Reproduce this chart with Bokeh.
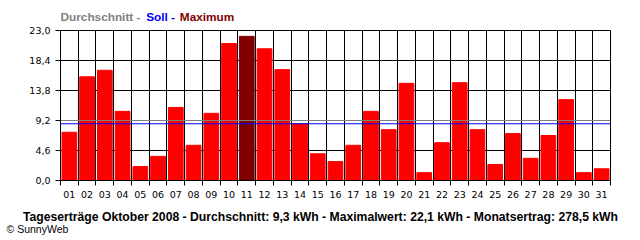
from bokeh.plotting import figure
from bokeh.layouts import column
from bokeh.models import FixedTicker, CustomJSTickFormatter, Span, ColumnDataSource, Range1d
from bokeh.core.properties import value
from bokeh.embed import file_html
from bokeh.resources import INLINE

days = ["01", "02", "03", "04", "05", "06", "07", "08", "09", "10",
        "11", "12", "13", "14", "15", "16", "17", "18", "19", "20",
        "21", "22", "23", "24", "25", "26", "27", "28", "29", "30", "31"]
yields = [7.4, 15.9, 16.9, 10.6, 2.15, 3.7, 11.2, 5.4, 10.3, 21.0,
          22.1, 20.2, 17.0, 8.7, 4.1, 2.9, 5.4, 10.6, 7.8, 14.9,
          1.2, 5.8, 15.0, 7.8, 2.45, 7.2, 3.4, 6.9, 12.4, 1.2, 1.8]
y_ticks = [0.0, 4.6, 9.2, 13.8, 18.4, 23.0]
average = 9.2
target = 8.7

title_parts = ["Durchschnitt - ", "Soll - ", "Maximum"]
title_colors = ["#808080", "#0000ff", "#800000"]
bottom_title = "Tageserträge Oktober 2008 - Durchschnitt: 9,3 kWh - Maximalwert: 22,1 kWh - Monatsertrag: 278,5 kWh"
credit = "© SunnyWeb"

W = 640


def text_strip(h):
    f = figure(width=W, height=h, output_backend="svg", toolbar_location=None,
               x_range=Range1d(0, W), y_range=Range1d(0, h), frame_align=False,
               x_axis_type=None, y_axis_type=None,
               min_border=0, min_border_left=0, min_border_right=0,
               min_border_top=0, min_border_bottom=0)
    f.grid.visible = False
    f.outline_line_color = None
    f.background_fill_color = "white"
    f.border_fill_color = "white"
    return f


# ---- top title strip ----
top = text_strip(24)
top.text(x=[60, 145.7, 179.3], y=[7.5, 7.5, 7.5], text=title_parts, text_color=title_colors,
         text_font=value("Liberation Sans"), text_font_style="bold",
         text_font_size="11.8px", text_baseline="alphabetic", text_align="left")

# ---- main chart ----
n = len(days)
xs = list(range(1, n + 1))
vmax = max(yields)
colors = ["#800000" if v == vmax else "#ff0000" for v in yields]
src = ColumnDataSource(dict(x=xs, top=yields, color=colors))

p = figure(width=W, height=186, output_backend="svg", toolbar_location=None,
           x_range=Range1d(0.5, n + 0.5), y_range=Range1d(0, 23), frame_align=False,
           min_border_left=60, min_border_right=30, min_border_top=6, min_border_bottom=30)
p.background_fill_color = "white"
p.border_fill_color = "white"
p.outline_line_color = "black"

p.vbar(x="x", top="top", width=0.83, bottom=0, color="color", source=src)

p.add_layout(Span(location=average, dimension="width", line_color="#808080", line_width=1))
p.add_layout(Span(location=target, dimension="width", line_color="#0000ff", line_width=1))

boundaries = [i + 0.5 for i in range(0, n + 1)]
xa = p.xaxis[0]
xa.ticker = FixedTicker(ticks=xs, minor_ticks=boundaries)
xa.major_label_overrides = {x: d for x, d in zip(xs, days)}
xa.major_tick_line_color = None
xa.major_tick_out = 5
xa.major_tick_in = 0
xa.minor_tick_out = 5
xa.minor_tick_in = 0
xa.minor_tick_line_color = "black"
xa.axis_line_color = "black"
xa.major_label_standoff = 5
xa.major_label_text_font = "DejaVu Sans"
xa.major_label_text_font_size = "9.5px"
xa.major_label_text_color = "black"

ya = p.yaxis[0]
ya.ticker = FixedTicker(ticks=y_ticks, minor_ticks=[])
ya.formatter = CustomJSTickFormatter(code="return tick.toFixed(1).replace('.', ',');")
ya.major_tick_out = 5
ya.major_tick_in = 0
ya.major_tick_line_color = "black"
ya.axis_line_color = "black"
ya.major_label_standoff = 5
ya.major_label_text_font = "DejaVu Sans"
ya.major_label_text_font_size = "9.5px"
ya.major_label_text_color = "black"

p.xgrid.ticker = FixedTicker(ticks=boundaries)
p.xgrid.grid_line_color = "black"
p.ygrid.ticker = FixedTicker(ticks=y_ticks)
p.ygrid.grid_line_color = "black"

# ---- bottom caption strip ----
bot = text_strip(30)
bot.text(x=[320], y=[23.5], text=[bottom_title], text_color="black",
         text_font=value("Liberation Sans"), text_font_style="bold",
         text_font_size="12.2px", text_baseline="alphabetic", text_align="center")
bot.text(x=[6], y=[11.5], text=[credit], text_color="black",
         text_font=value("Liberation Sans"),
         text_font_size="10.5px", text_baseline="alphabetic", text_align="left")

layout = column(top, p, bot, spacing=0)
open("out.html", "w").write(file_html(layout, INLINE))
